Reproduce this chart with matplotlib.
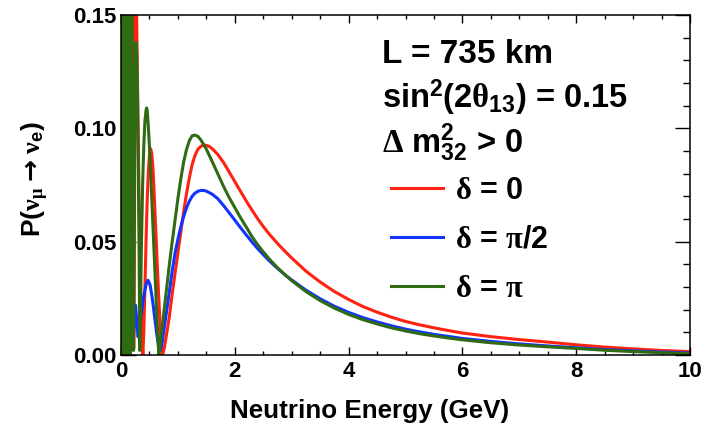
import matplotlib
matplotlib.use("Agg")
import matplotlib.pyplot as plt
from matplotlib.ticker import MultipleLocator, FormatStrFormatter

plt.rcParams['font.family'] = ['Liberation Sans', 'DejaVu Sans']
plt.rcParams['font.weight'] = 'bold'
plt.rcParams['mathtext.fontset'] = 'custom'
plt.rcParams['mathtext.rm'] = 'Liberation Serif'
plt.rcParams['mathtext.it'] = 'Liberation Serif'
plt.rcParams['mathtext.bf'] = 'Liberation Sans:bold'
plt.rcParams['mathtext.sf'] = 'DejaVu Sans'

# neutrino energy (GeV) and appearance probability
# delta = 0
E_red = [0.005, 0.006, 0.007, 0.008, 0.009, 0.010, 0.011, 0.012, 0.013, 0.014, 0.015, 0.016, 0.017, 0.018,
         0.019, 0.020, 0.021, 0.022, 0.023, 0.024, 0.025, 0.026, 0.027, 0.028, 0.0293, 0.0305, 0.0318, 0.033,
         0.034, 0.0355, 0.037, 0.0385, 0.040, 0.042, 0.044, 0.046, 0.048, 0.050, 0.0525, 0.055, 0.058, 0.061,
         0.064, 0.067, 0.071, 0.075, 0.080, 0.085, 0.091, 0.098, 0.105, 0.114, 0.124, 0.137, 0.152, 0.172,
         0.196, 0.228,
         0.255, 0.27, 0.285, 0.30, 0.315, 0.33, 0.345, 0.36, 0.375, 0.385, 0.40, 0.42, 0.44, 0.46, 0.48,
         0.50, 0.52, 0.54, 0.56, 0.58, 0.60, 0.62, 0.64, 0.66, 0.68, 0.70, 0.72, 0.73,
         0.76, 0.80, 0.85, 0.90, 0.95, 1.00, 1.05, 1.10, 1.15, 1.20, 1.25, 1.30, 1.35, 1.40, 1.45, 1.50,
         1.55, 1.60, 1.70, 1.80, 1.90, 2.00, 2.10, 2.20, 2.30, 2.40, 2.50, 2.60, 2.75, 2.90, 3.00, 3.25,
         3.50, 3.75, 4.00, 4.25, 4.50, 4.75, 5.00, 5.25, 5.50, 5.75, 6.00, 6.50, 7.00, 7.50, 8.00, 8.50,
         9.00, 9.50, 10.0]
P_red = [0.17, 0.003, 0.17, 0.003, 0.17, 0.003, 0.17, 0.003, 0.17, 0.003, 0.17, 0.003, 0.17, 0.003,
         0.17, 0.003, 0.17, 0.003, 0.17, 0.003, 0.17, 0.003, 0.17, 0.003, 0.17, 0.003, 0.17, 0.003,
         0.17, 0.003, 0.17, 0.003, 0.17, 0.003, 0.17, 0.003, 0.17, 0.003, 0.17, 0.003, 0.17, 0.003,
         0.17, 0.003, 0.17, 0.003, 0.17, 0.003, 0.17, 0.003, 0.17, 0.003, 0.17, 0.003, 0.17, 0.003,
         0.17, 0.003,
         0.17, 0.158, 0.13, 0.10, 0.074, 0.050, 0.030, 0.015, 0.004, 0.0, 0.010, 0.029, 0.050, 0.068, 0.081,
         0.088, 0.091, 0.089, 0.083, 0.073, 0.062, 0.050, 0.038, 0.027, 0.017, 0.008, 0.002, 0.0,
         0.003, 0.009, 0.017, 0.027, 0.036, 0.045, 0.054, 0.063, 0.071, 0.078, 0.084, 0.088, 0.0907, 0.0920,
         0.0926, 0.0925, 0.0920, 0.0911, 0.0885, 0.0850, 0.0808, 0.0765, 0.0722, 0.0680, 0.0640, 0.0602,
         0.0567, 0.0535, 0.0492, 0.0453, 0.0428, 0.0370, 0.0322, 0.0280, 0.0245, 0.0214, 0.0189, 0.0167,
         0.0148, 0.0133, 0.0120, 0.0108, 0.0097, 0.0081, 0.0068, 0.0057, 0.0045, 0.0035, 0.0027, 0.0020,
         0.0015]

# delta = pi/2
E_blue = [0.002, 0.004, 0.008, 0.012, 0.016, 0.021, 0.026, 0.032, 0.039, 0.047, 0.056, 0.066, 0.078, 0.092,
          0.108, 0.126, 0.15, 0.18, 0.215, 0.255, 0.30, 0.33, 0.36, 0.40, 0.44, 0.475, 0.51, 0.55, 0.59,
          0.63, 0.66, 0.69, 0.72, 0.76, 0.80, 0.85, 0.90, 0.95, 1.00, 1.05, 1.10, 1.15, 1.20, 1.25, 1.30,
          1.35, 1.40, 1.45, 1.50, 1.60, 1.70, 1.80, 1.90, 2.00, 2.10, 2.20, 2.30, 2.40, 2.50, 2.60, 2.75,
          2.90, 3.00, 3.25, 3.50, 3.75, 4.00, 4.25, 4.50, 4.75, 5.00, 5.25, 5.50, 5.75, 6.00, 6.50, 7.00,
          7.50, 8.00, 8.50, 9.00, 9.50, 10.0]
P_blue = [0.05, 0.16, 0.04, 0.16, 0.03, 0.15, 0.02, 0.14, 0.015, 0.13, 0.012, 0.128, 0.015, 0.127,
          0.012, 0.07, 0.012, 0.048, 0.007, 0.022, 0.008, 0.013, 0.019, 0.026, 0.031, 0.033, 0.031, 0.025, 0.017,
          0.009, 0.004, 0.002, 0.005, 0.012, 0.019, 0.028, 0.037, 0.045, 0.051, 0.0565, 0.0610, 0.0648,
          0.0678, 0.0700, 0.0714, 0.0722, 0.0726, 0.0726, 0.0723, 0.0710, 0.0690, 0.0660, 0.0628, 0.0595,
          0.0562, 0.0530, 0.0499, 0.0470, 0.0443, 0.0417, 0.0382, 0.0350, 0.0331, 0.0286, 0.0248, 0.0215,
          0.0188, 0.0165, 0.0146, 0.0129, 0.0114, 0.0102, 0.0091, 0.0082, 0.0073, 0.0060, 0.0049, 0.0040,
          0.0032, 0.0024, 0.0018, 0.0013, 0.0009]

# delta = pi
E_green = [0.001, 0.002, 0.003, 0.004, 0.005, 0.006, 0.007, 0.008, 0.009, 0.010, 0.011, 0.012, 0.013,
           0.014, 0.015, 0.016, 0.017, 0.018, 0.019, 0.020, 0.021, 0.022, 0.023, 0.024, 0.025, 0.026,
           0.0275, 0.029, 0.0305, 0.032, 0.0335, 0.035, 0.037, 0.039, 0.041, 0.043, 0.0455, 0.048, 0.051,
           0.054, 0.057, 0.061, 0.065, 0.069, 0.073, 0.078, 0.083, 0.089, 0.095, 0.102, 0.111, 0.121, 0.133,
           0.148, 0.167, 0.19, 0.22,
           0.23, 0.24, 0.25, 0.262, 0.275, 0.29, 0.305, 0.32, 0.33, 0.345, 0.36, 0.38, 0.40, 0.42, 0.44,
           0.45, 0.46, 0.48, 0.50, 0.52, 0.54, 0.56, 0.58, 0.60, 0.62, 0.64, 0.655, 0.665,
           0.70, 0.75, 0.80, 0.85, 0.90, 0.95, 1.00, 1.05, 1.10, 1.15, 1.20, 1.25, 1.30, 1.35, 1.40, 1.45,
           1.50, 1.60, 1.70, 1.80, 1.90, 2.00, 2.10, 2.20, 2.30, 2.40, 2.50, 2.60, 2.75, 2.90, 3.00, 3.25,
           3.50, 3.75, 4.00, 4.25, 4.50, 4.75, 5.00, 5.25, 5.50, 5.75, 6.00, 6.50, 7.00, 7.50, 8.00, 8.50,
           9.00, 9.50, 10.0]
P_green = [0.0, 0.17, 0.0, 0.17, 0.0, 0.17, 0.0, 0.17, 0.0, 0.17, 0.0, 0.17, 0.0,
           0.17, 0.0, 0.17, 0.0, 0.17, 0.0, 0.17, 0.0, 0.17, 0.0, 0.17, 0.0, 0.17,
           0.0, 0.17, 0.0, 0.17, 0.0, 0.17, 0.0, 0.17, 0.0, 0.17, 0.0, 0.17, 0.0,
           0.17, 0.0, 0.17, 0.0, 0.17, 0.0, 0.17, 0.0, 0.17, 0.0, 0.17, 0.0, 0.17, 0.0,
           0.17, 0.0, 0.17, 0.002,
           0.05, 0.095, 0.125, 0.138, 0.134, 0.115, 0.08, 0.04, 0.002, 0.025, 0.050, 0.075, 0.092, 0.103, 0.108,
           0.109, 0.108, 0.101, 0.092, 0.081, 0.069, 0.058, 0.046, 0.034, 0.023, 0.012, 0.005, 0.0,
           0.007, 0.018, 0.029, 0.040, 0.050, 0.0595, 0.069, 0.0775, 0.0850, 0.0905, 0.0945, 0.0967, 0.0970,
           0.0965, 0.0950, 0.0930, 0.0908, 0.0855, 0.0800, 0.0745, 0.0695, 0.0650, 0.0606, 0.0565, 0.0523,
           0.0487, 0.0455, 0.0425, 0.0385, 0.0350, 0.0328, 0.0280, 0.0240, 0.0207, 0.0179, 0.0156, 0.0137,
           0.0120, 0.0106, 0.0094, 0.0084, 0.0075, 0.0067, 0.0054, 0.0044, 0.0036, 0.0029, 0.0021, 0.0015,
           0.0010, 0.0006]

labels = [r'$\delta$ = 0', r'$\delta$ = $\pi$/2', r'$\delta$ = $\pi$']
colors = ['#ff2210', '#1133ff', '#2e6b12']

fig = plt.figure(figsize=(7.08, 4.37), dpi=100)
ax = fig.add_axes([121/708, 1-355/437, 569/708, 340/437])

ax.plot(E_red, P_red, color=colors[0], lw=2.2, label=labels[0])
ax.plot(E_blue, P_blue, color=colors[1], lw=2.2, label=labels[1])
ax.plot(E_green, P_green, color=colors[2], lw=2.2, label=labels[2])

ax.set_xlim(0, 10)
ax.set_ylim(0, 0.15)
ax.xaxis.set_major_locator(MultipleLocator(2))
ax.xaxis.set_minor_locator(MultipleLocator(0.5))
ax.yaxis.set_major_locator(MultipleLocator(0.05))
ax.yaxis.set_minor_locator(MultipleLocator(0.01))
ax.yaxis.set_major_formatter(FormatStrFormatter('%.2f'))
ax.tick_params(which='both', direction='in', top=True, right=True, labelsize=16, width=1)
ax.tick_params(axis='x', which='major', length=6, pad=4)
ax.tick_params(axis='x', which='minor', length=3)
ax.tick_params(axis='y', which='major', length=11, pad=3)
ax.tick_params(axis='y', which='minor', length=5)
for s in ax.spines.values():
    s.set_linewidth(1.1)

ax.set_xlabel('Neutrino Energy (GeV)', fontsize=18.7, fontweight='bold')
ax.xaxis.set_label_coords(0.4376, -0.13)
ax.set_ylabel(r'P($\nu_{\mu}\;\mathsf{→}\;\nu_{\mathbf{e}}$)', fontsize=19, fontweight='bold')
ax.yaxis.set_label_coords(-0.15, 0.518)
ax.yaxis.label.set_va('center')

fig.text(382/708, 1-63/437, 'L = 735 km', fontsize=24, fontweight='bold', va='baseline')
fig.text(382/708, 1-108/437, r'sin$^{\mathbf{2}}$(2$\theta_{\mathbf{13}}$) = 0.15', fontsize=23.5,
         fontweight='bold', va='baseline')
fig.text(382/708, 1-153/437, r'$\Delta$ $\mathbf{m}^{\mathbf{2}}_{\mathbf{32}}$ > 0', fontsize=23.5,
         fontweight='bold', va='baseline')

ax.legend(loc='upper left', bbox_to_anchor=(391/708, 1-176/437), bbox_transform=fig.transFigure,
          frameon=False, fontsize=22, handlelength=1.7, handletextpad=0.4, labelspacing=0.62,
          borderaxespad=0, borderpad=0)

fig.savefig('out.png', dpi=100)
